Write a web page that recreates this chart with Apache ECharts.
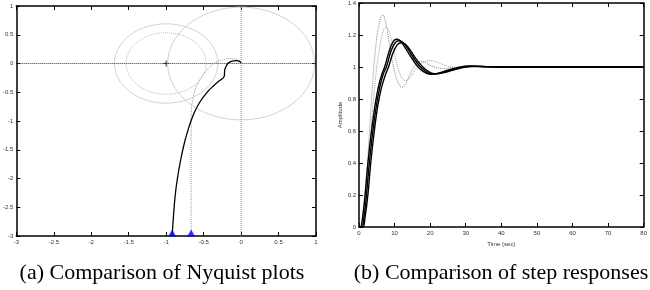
<!DOCTYPE html>
<html>
<head>
<meta charset="utf-8">
<script src="https://cdn.jsdelivr.net/npm/echarts@6/dist/echarts.min.js"></script>
<style>
html,body{margin:0;padding:0;background:#fff;}
#main{width:650px;height:290px;}
</style>
</head>
<body>
<div id="main"></div>
<script>
// ---- (a) Nyquist data ----
var nyqSolid = [[-0.92,-3],[-0.905,-2.7],[-0.88,-2.3],[-0.85,-2.0],[-0.81,-1.7],[-0.76,-1.4],[-0.70,-1.12],
  [-0.63,-0.87],[-0.55,-0.67],[-0.46,-0.51],[-0.37,-0.39],[-0.29,-0.3],[-0.235,-0.245],[-0.222,-0.2],
  [-0.22,-0.13],[-0.205,-0.06],[-0.17,0.01],[-0.12,0.04],[-0.07,0.05],[-0.035,0.045],[-0.012,0.028],[0,0.012]];
var nyqDotted = [[-0.667,-3],[-0.667,-1.2],[-0.665,-0.85],[-0.64,-0.6],[-0.59,-0.38],[-0.52,-0.22],
  [-0.44,-0.09],[-0.35,0.01],[-0.25,0.065],[-0.15,0.085],[-0.07,0.075],[-0.02,0.04],[0,0.01]];
var markerPts = [[-0.92,-3],[-0.667,-3]];
var criticalPt = [[-1,0]];
var circleSolid = [{c:[-1,0], r:0.69},{c:[0,0], r:0.98}];
var circleDotted = [{c:[-1,0], r:0.535}];
var zeroH = [[-3,0],[1,0]];
var zeroV = [[0,-3],[0,1]];

// ---- (b) step response data ----
var stepS1 = [[0,0],[0.4,0],[1,0.06],[1.7,0.2],[2.5,0.4],[3.5,0.6],[4.5,0.76],[5.5,0.88],[6.5,0.96],[7.2,1.0],
  [8.5,1.1],[9.5,1.155],[10.4,1.173],[11.5,1.165],[13,1.12],[15,1.05],[17,0.99],[19,0.96],[20.5,0.955],
  [22,0.96],[25,0.98],[28,0.998],[31,1.006],[34,1.004],[38,1.0],[80,1.0]];
var stepS2 = [[0,0],[0.8,0],[1.4,0.06],[2.1,0.2],[2.9,0.4],[3.9,0.6],[4.9,0.76],[5.9,0.88],[6.9,0.96],[7.7,1.0],
  [9,1.1],[10.1,1.15],[11.1,1.164],[12.2,1.156],[13.7,1.115],[15.7,1.045],[17.7,0.99],[19.7,0.96],[21.2,0.956],
  [22.7,0.961],[25.7,0.98],[28.7,0.998],[31.7,1.005],[34.7,1.003],[39,1.0],[80,1.0]];
var stepS3 = [[0,0],[1.1,0],[1.7,0.06],[2.5,0.2],[3.3,0.4],[4.3,0.6],[5.3,0.76],[6.3,0.87],[7.4,0.95],[8.3,1.0],
  [9.6,1.09],[10.8,1.14],[11.9,1.152],[13,1.143],[14.4,1.105],[16.4,1.04],[18.4,0.99],[20.4,0.962],[22,0.958],
  [23.5,0.963],[26.5,0.981],[29.5,0.998],[32.5,1.004],[35.5,1.002],[40,1.0],[80,1.0]];
var stepD1 = [[0,0],[0.5,0],[1,0.05],[2,0.28],[3,0.62],[4,0.95],[5,1.18],[6,1.3],[6.7,1.325],[7.5,1.28],
  [8.5,1.15],[9.5,1.02],[10.5,0.93],[11.5,0.88],[12.2,0.873],[13,0.89],[14,0.94],[15,0.985],[16,1.02],
  [17,1.035],[18.5,1.03],[20,1.01],[22,0.995],[24,0.99],[26,0.997],[28,1.0],[80,1.0]];
var stepD2 = [[0,0],[0.6,0],[1.2,0.05],[2.2,0.25],[3.3,0.58],[4.4,0.88],[5.5,1.08],[6.5,1.2],[7.5,1.25],
  [8.5,1.22],[9.5,1.13],[10.5,1.03],[11.5,0.96],[12.5,0.92],[13.5,0.915],[14.5,0.94],[16,0.99],[18,1.03],
  [20,1.04],[22,1.03],[24,1.012],[26,1.0],[28,0.995],[31,1.0],[80,1.0]];

var captionA = '(a) Comparison of Nyquist plots';
var captionB = '(b) Comparison of step responses';

// circle outline from centre + radius (reference shape, not data)
function ring(o){
  var pts=[];
  for(var i=0;i<=96;i++){
    var a=i/96*2*Math.PI;
    pts.push([o.c[0]+o.r*Math.cos(a), o.c[1]+o.r*Math.sin(a)]);
  }
  return pts;
}

var lblFont = {fontSize:6, color:'#333', fontFamily:'Liberation Sans'};
var tick = {show:true, inside:true, length:4, lineStyle:{color:'#000', width:1}};
var aLine = {show:true, onZero:false, lineStyle:{color:'#000', width:1.5}};

function xAx(grid, pos, min, max, iv, lbl, name){
  return {type:'value', gridIndex:grid, position:pos, min:min, max:max, interval:iv,
    axisLine:aLine, axisTick:tick, splitLine:{show:false},
    axisLabel:Object.assign({show:lbl, margin:3, showMinLabel:true, showMaxLabel:true}, lblFont),
    name:name||'', nameLocation:'middle', nameGap:11, nameTextStyle:lblFont};
}
function yAx(grid, pos, min, max, iv, lbl, name){
  return {type:'value', gridIndex:grid, position:pos, min:min, max:max, interval:iv,
    axisLine:aLine, axisTick:tick, splitLine:{show:false},
    axisLabel:Object.assign({show:lbl, margin:3, showMinLabel:true, showMaxLabel:true}, lblFont),
    name:name||'', nameLocation:'middle', nameGap:14, nameTextStyle:lblFont};
}

function ln(data, color, width, type, xi, yi, smooth){
  return {type:'line', xAxisIndex:xi, yAxisIndex:yi, data:data, symbol:'none', smooth:smooth||false,
    lineStyle:{color:color, width:width, type:type}, silent:true, animation:false};
}

var series = [];
circleSolid.forEach(function(c){ series.push(ln(ring(c), '#d2d2d2', 1, 'solid', 0, 0)); });
circleDotted.forEach(function(c){ series.push(ln(ring(c), '#bdbdbd', 1, 'dotted', 0, 0)); });
series.push(ln(zeroH, '#333', 1, 'dotted', 0, 0));
series.push(ln(zeroV, '#888', 1, 'dotted', 0, 0));
series.push(ln(nyqDotted, '#999', 1, 'dotted', 0, 0, 0.4));
series.push(ln(nyqSolid, '#000', 1.3, 'solid', 0, 0, 0.4));
series.push({type:'scatter', xAxisIndex:0, yAxisIndex:0, data:criticalPt, symbol:'path://M0,5L10,5M5,0L5,10',
  symbolSize:6, itemStyle:{color:'none', borderColor:'#000', borderWidth:1}, silent:true, animation:false});
series.push({type:'scatter', xAxisIndex:0, yAxisIndex:0, data:markerPts, symbol:'triangle', symbolSize:[8,7],
  symbolOffset:[0,-3], itemStyle:{color:'#0000ff'}, clip:false, silent:true, animation:false, z:5});

series.push(ln(stepD1, '#8a8a8a', 1, 'dotted', 2, 2, 0.4));
series.push(ln(stepD2, '#a0a0a0', 1, 'dotted', 2, 2, 0.4));
series.push(ln(stepS1, '#000', 1.4, 'solid', 2, 2, 0.4));
series.push(ln(stepS2, '#000', 1.4, 'solid', 2, 2, 0.4));
series.push(ln(stepS3, '#000', 1.4, 'solid', 2, 2, 0.4));

var chart = echarts.init(document.getElementById('main'), null, {renderer:'canvas'});
chart.setOption({
  animation:false,
  backgroundColor:'#fff',
  grid:[
    {left:16, right:334, top:6, bottom:54},
    {left:359, right:1.5, top:3, bottom:63}
  ],
  xAxis:[
    xAx(0,'bottom',-3,1,0.5,true),
    xAx(0,'top',-3,1,0.5,false),
    xAx(1,'bottom',0,80,10,true,'Time (sec)'),
    xAx(1,'top',0,80,10,false)
  ],
  yAxis:[
    yAx(0,'left',-3,1,0.5,true),
    yAx(0,'right',-3,1,0.5,false),
    yAx(1,'left',0,1.4,0.2,true,'Amplitude'),
    yAx(1,'right',0,1.4,0.2,false)
  ],
  series:series,
  graphic:[
    {type:'text', x:162, y:273, style:{text:captionA, font:'22px "Liberation Serif"', fill:'#000', align:'center', verticalAlign:'middle'}},
    {type:'text', x:501, y:273, style:{text:captionB, font:'22px "Liberation Serif"', fill:'#000', align:'center', verticalAlign:'middle'}}
  ]
});
</script>
</body>
</html>
